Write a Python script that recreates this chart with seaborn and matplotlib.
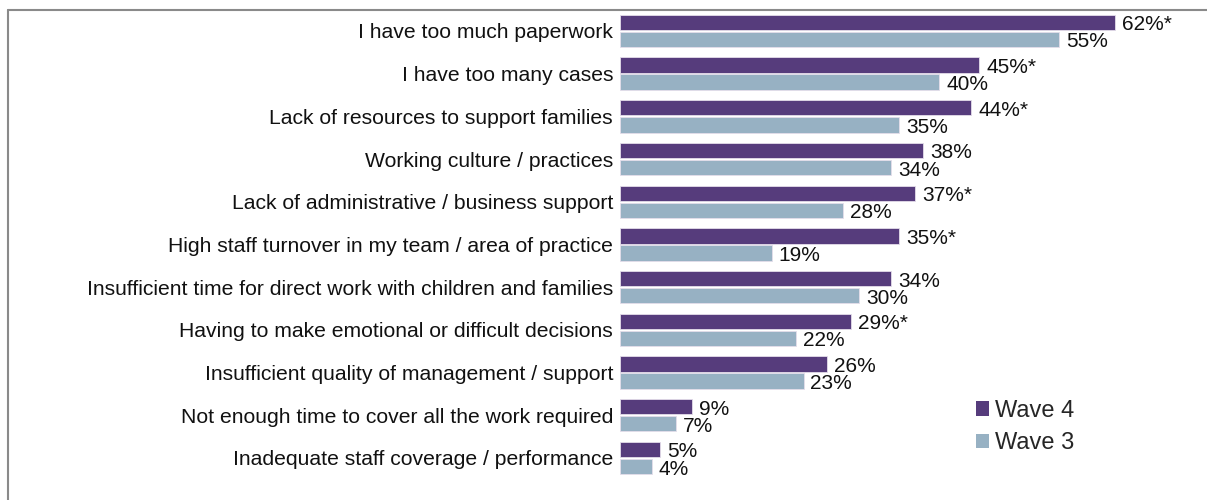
import matplotlib
matplotlib.use("Agg")
import matplotlib.pyplot as plt
import seaborn as sns
import pandas as pd
from matplotlib.patches import Patch
from matplotlib.lines import Line2D

categories = [
    "I have too much paperwork",
    "I have too many cases",
    "Lack of resources to support families",
    "Working culture / practices",
    "Lack of administrative / business support",
    "High staff turnover in my team / area of practice",
    "Insufficient time for direct work with children and families",
    "Having to make emotional or difficult decisions",
    "Insufficient quality of management / support",
    "Not enough time to cover all the work required",
    "Inadequate staff coverage / performance",
]
wave4 = [62, 45, 44, 38, 37, 35, 34, 29, 26, 9, 5]
wave3 = [55, 40, 35, 34, 28, 19, 30, 22, 23, 7, 4]
sig4 = ["*", "*", "*", "", "*", "*", "", "*", "", "", ""]
series = ["Wave 4", "Wave 3"]
colors = ["#563C7C", "#97B1C3"]

sns.set_style("white")
plt.rcParams["font.family"] = ["Liberation Sans", "DejaVu Sans"]

df = pd.DataFrame({
    "category": categories * 2,
    "wave": ["Wave 4"] * len(categories) + ["Wave 3"] * len(categories),
    "value": wave4 + wave3,
})

fig = plt.figure(figsize=(12.07, 5.0), dpi=100)
ax = fig.add_axes([620 / 1207, 10 / 500, 587 / 1207, 480 / 500])

sns.barplot(data=df, y="category", x="value", hue="wave", hue_order=series,
            palette=colors, saturation=1, orient="h", width=0.8, gap=0.1, ax=ax,
            legend=False, edgecolor="#E4DDEA", linewidth=0.6)

ax.set_xlim(0, 587 / 7.98)
ax.set_ylim(10.75, -0.49)
for s in ax.spines.values():
    s.set_visible(False)
ax.set_xticks([])
ax.set_xlabel("")
ax.set_ylabel("")
ax.tick_params(axis="y", length=0, pad=5, labelsize=15.2, labelcolor="#111111")

labels_sets = [
    [f"{v}%{s}" for v, s in zip(wave4, sig4)],
    [f"{v}%" for v in wave3],
]
for cont, labs in zip(ax.containers, labels_sets):
    for rect, lab in zip(cont.patches, labs):
        yc = rect.get_y() + rect.get_height() / 2
        ax.annotate(lab, xy=(rect.get_width(), yc), xytext=(5, -1.8),
                    textcoords="offset points", va="center", ha="left",
                    fontsize=15, color="#111111", annotation_clip=False)

handles = [Patch(facecolor=c, edgecolor="none", label=l) for c, l in zip(colors, series)]
leg = fig.legend(handles=handles, loc="upper left",
                 bbox_to_anchor=(964 / 1207, 1 - 388 / 500), frameon=False,
                 fontsize=17, handlelength=0.55, handleheight=0.55,
                 handletextpad=0.25, labelspacing=0.45, borderpad=0)

# outer frame (left and top edges visible)
fig.add_artist(Line2D([8 / 1207, 8 / 1207], [0, 1 - 10 / 500],
                      transform=fig.transFigure, color="#8a8a8a", lw=1.5))
fig.add_artist(Line2D([8 / 1207, 1], [1 - 10 / 500, 1 - 10 / 500],
                      transform=fig.transFigure, color="#8a8a8a", lw=1.5))

fig.savefig("out.png", dpi=100)
